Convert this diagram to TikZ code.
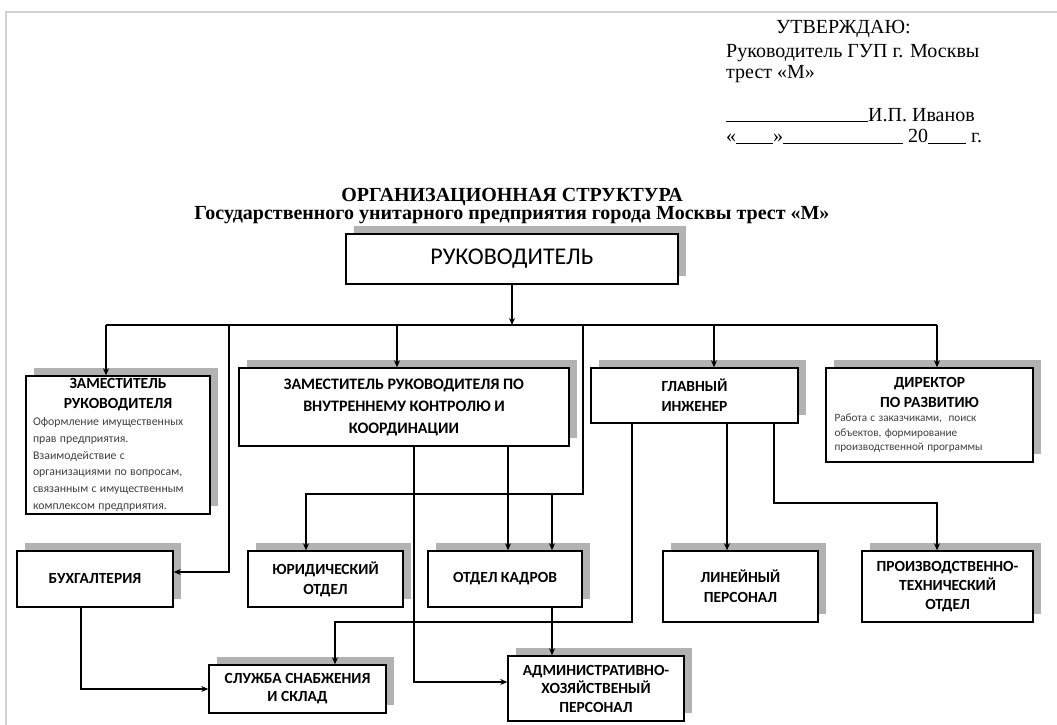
\documentclass[tikz,border=0pt]{standalone}
\usepackage{fontspec}
\setmainfont{Liberation Serif}
\newfontfamily\boxfont{Carlito}
\usepackage{tikz}
\usetikzlibrary{arrows.meta}
\usetikzlibrary{shadows}
\tikzset{>={Stealth[length=7pt,width=6pt]},
  shade box/.style={draw,line width=1.4pt,fill=white,inner sep=2pt,
    drop shadow={shadow xshift=8pt,shadow yshift=8pt,opacity=1,fill=black!30}},
  box/.style={shade box,align=center,font=\boxfont\bfseries\fontsize{15.5}{20}\selectfont},
  infobox/.style={shade box,font=\boxfont},
  link/.style={line width=1.4pt},
  head/.style={anchor=base west,font=\fontsize{20}{21}\selectfont,inner sep=0pt}}

\begin{document}
\begin{tikzpicture}[x=1pt,y=-1pt]
  \useasboundingbox (0,0) rectangle (1057,725);
  \draw [black!18,line width=2pt] (6,725) -- (6,12) -- (1057,12);

  % approval block
  \node [head] (appr) at (776,34) {УТВЕРЖДАЮ:};
  \node [head] (chief) at (726,57) {Руководитель ГУП г. Москвы};
  \node [head] (trust) at (726,78) {трест «М»};
  \node [head] (sign) at (726,121) {\rule[-1.5pt]{142pt}{1pt}И.П. Иванов};
  \node [head] (date) at (726,142) {«\rule[-1.5pt]{37pt}{1pt}»\rule[-1.5pt]{120pt}{1pt} 20\rule[-1.5pt]{38pt}{1pt} г.};

  \node [anchor=base,font=\bfseries\fontsize{20}{21}\selectfont] (title) at (512,201) {ОРГАНИЗАЦИОННАЯ СТРУКТУРА};
  \node [anchor=base,font=\bfseries\fontsize{20}{21}\selectfont] (subtitle) at (512,219) {Государственного унитарного предприятия города Москвы трест «М»};

  % boxes
  \node [shade box,minimum width=332pt,minimum height=50pt,font=\boxfont\fontsize{24}{26}\selectfont] (boss) at (512,259) {РУКОВОДИТЕЛЬ};

  \node [infobox,minimum width=184pt,minimum height=138pt,text width=170pt] (dep1) at (118,445)
    {{\centering\bfseries\fontsize{15.5}{20}\selectfont ЗАМЕСТИТЕЛЬ\\ РУКОВОДИТЕЛЯ\par}
     {\raggedright\color{black!75}\fontsize{11.8}{16.8}\selectfont Оформление имущественных\\ прав предприятия.\\ Взаимодействие с\\ организациями\ по вопросам,\\ связанным\ с имущественным\\ комплексом предприятия.\par}};
  \node [box,minimum width=330pt,minimum height=78pt,font=\boxfont\bfseries\fontsize{16}{22}\selectfont] (dep2) at (404,407)
    {ЗАМЕСТИТЕЛЬ\ РУКОВОДИТЕЛЯ\ ПО\\ ВНУТРЕННЕМУ КОНТРОЛЮ И\\ КООРДИНАЦИИ};
  \node [box,minimum width=207pt,minimum height=55pt] (eng) at (694.5,395.5) {ГЛАВНЫЙ\\ ИНЖЕНЕР};
  \node [infobox,minimum width=207pt,minimum height=94pt,text width=190pt] (dev) at (929.5,415)
    {{\centering\bfseries\fontsize{15.5}{20}\selectfont ДИРЕКТОР\\ ПО РАЗВИТИЮ\par}
     {\raggedright\color{black!75}\fontsize{11.2}{14.5}\selectfont Работа с заказчиками,\ \ поиск\\ объектов, формирование\\ производственной программы\par}};

  \node [box,minimum width=156pt,minimum height=56pt] (buh) at (95,579) {БУХГАЛТЕРИЯ};
  \node [box,minimum width=155pt,minimum height=56pt] (law) at (325.5,579) {ЮРИДИЧЕСКИЙ\\ ОТДЕЛ};
  \node [box,minimum width=154pt,minimum height=56pt] (hr) at (505,579) {ОТДЕЛ КАДРОВ};
  \node [box,minimum width=155pt,minimum height=71pt] (lin) at (740.5,586.5) {ЛИНЕЙНЫЙ\\ ПЕРСОНАЛ};
  \node [box,minimum width=171pt,minimum height=71pt,font=\boxfont\bfseries\fontsize{15.5}{19}\selectfont] (pto) at (947.5,586.5) {ПРОИЗВОДСТВЕННО-\\ ТЕХНИЧЕСКИЙ\\ ОТДЕЛ};
  \node [box,minimum width=177pt,minimum height=48pt,font=\boxfont\bfseries\fontsize{15.5}{18}\selectfont] (supply) at (297.5,689) {СЛУЖБА СНАБЖЕНИЯ\\ И СКЛАД};
  \node [box,minimum width=176pt,minimum height=65pt,font=\boxfont\bfseries\fontsize{15.5}{18.5}\selectfont] (adm) at (596,688.5) {АДМИНИСТРАТИВНО-\\ ХОЗЯЙСТВЕНЫЙ\\ ПЕРСОНАЛ};

  % connectors
  \coordinate (busL) at (106,325);
  \coordinate (busR) at (937,325);
  \coordinate (k1) at (229,325);
  \coordinate (k2) at (583,325);
  \coordinate (k3) at (583,494);
  \coordinate (k4) at (552,494);
  \coordinate (k5) at (632,622);
  \coordinate (k6) at (774,503);

  \draw [link,->] (boss.south) -- (boss.south |- busL);
  \draw [link] (busL) -- (busR);
  \draw [link,->] (busL) -- (busL |- dep1.north);
  \draw [link,->] ([xshift=-7pt]dep2.north |- busL) -- ([xshift=-7pt]dep2.north);
  \draw [link,->] ([xshift=19.5pt]eng.north |- busL) -- ([xshift=19.5pt]eng.north);
  \draw [link,->] (busR) -- (busR |- dev.north);

  \draw [link,->] (k1) |- ([yshift=7pt]buh.east);
  \draw [link,->] (k2) -- (k3) -| ([xshift=-19.5pt]law.north);
  \draw [link,->] (k4) -- (k4 |- hr.north);
  \draw [link,->] ([xshift=3pt]hr.north |- dep2.south) -- ([xshift=3pt]hr.north);
  \draw [link,->] ([xshift=10pt]dep2.south) |- ([yshift=6.5pt]adm.west);
  \draw [link,->] (k4 |- hr.south) -- (k4 |- adm.north);

  \draw [link,->] (k5 |- eng.south) -- (k5) -| ([xshift=37.5pt]supply.north);
  \draw [link,->] ([xshift=32.5pt]eng.south) -- ([xshift=32.5pt]eng.south |- lin.north);
  \draw [link,->] (k6 |- eng.south) -- (k6) -| ([xshift=-10.5pt]pto.north);
  \draw [link,->] ([xshift=-14pt]buh.south) |- (supply.west);
\end{tikzpicture}
\end{document}
